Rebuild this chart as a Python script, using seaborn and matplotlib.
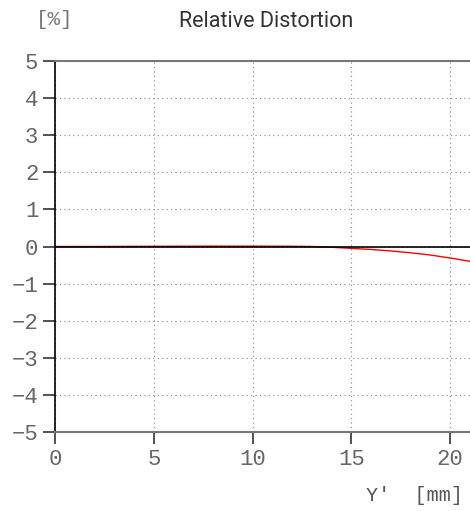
import numpy as np
import pandas as pd
import matplotlib.pyplot as plt
import seaborn as sns

# 数据：像高 Y' [mm] 与相对畸变 [%]
image_height = [0, 2, 4, 6, 8, 10, 12, 13, 14, 15, 16, 17, 18, 19, 20, 21]
distortion = [0.0, 0.0, 0.004, 0.007, 0.009, 0.009, 0.006, 0.0, -0.02,
              -0.05, -0.08, -0.12, -0.17, -0.23, -0.31, -0.40]

x_ticks = [0, 5, 10, 15, 20]
y_ticks = [-5, -4, -3, -2, -1, 0, 1, 2, 3, 4, 5]

df = pd.DataFrame({"y_img": image_height, "dist": distortion})

sns.set_style("white")
plt.rcParams['font.family'] = ['DejaVu Sans']

fig = plt.figure(figsize=(4.7, 5.11), dpi=100)
ax = fig.add_axes([0.117, 0.1546, 0.883, 0.726])

# 红色曲线在下，零线（黑）在上
sns.lineplot(data=df, x="y_img", y="dist", color='red', lw=1.0, ax=ax, zorder=2)
ax.axhline(0, color='black', lw=1.2, zorder=3)

ax.set_xlim(0, 21)
ax.set_ylim(-5, 5)
ax.set_xticks(x_ticks)
ax.set_yticks(y_ticks)
ax.set_yticklabels([str(v).replace('-', '\u2212') for v in y_ticks])
ax.grid(True, linestyle=(0, (1, 3)), color='#888888', lw=0.8)

for s in ['top', 'bottom']:
    ax.spines[s].set_color('#777777')
    ax.spines[s].set_linewidth(1.5)
ax.spines['left'].set_color('black')
ax.spines['left'].set_linewidth(1.2)
ax.spines['right'].set_visible(False)

ax.tick_params(axis='both', direction='out', length=8.5, width=1.2,
               color='#333333', labelsize=16, labelcolor='#666666', pad=3.5,
               bottom=True, left=True)
for lab in ax.get_xticklabels() + ax.get_yticklabels():
    lab.set_family('Liberation Mono')

ax.set_xlabel('')
ax.set_ylabel('')

fig.text(0.566, 0.958, 'Relative Distortion', ha='center', va='center',
         fontsize=15.5, color='#333333', family='Roboto')
fig.text(0.117, 0.961, '[%]', ha='center', va='center', fontsize=15,
         color='#777777', family='Liberation Mono')
fig.text(0.985, 0.031, "Y'  [mm]", ha='right', va='center', fontsize=14.5,
         color='#555555', family='Liberation Mono')

plt.savefig('out.png', dpi=100)
